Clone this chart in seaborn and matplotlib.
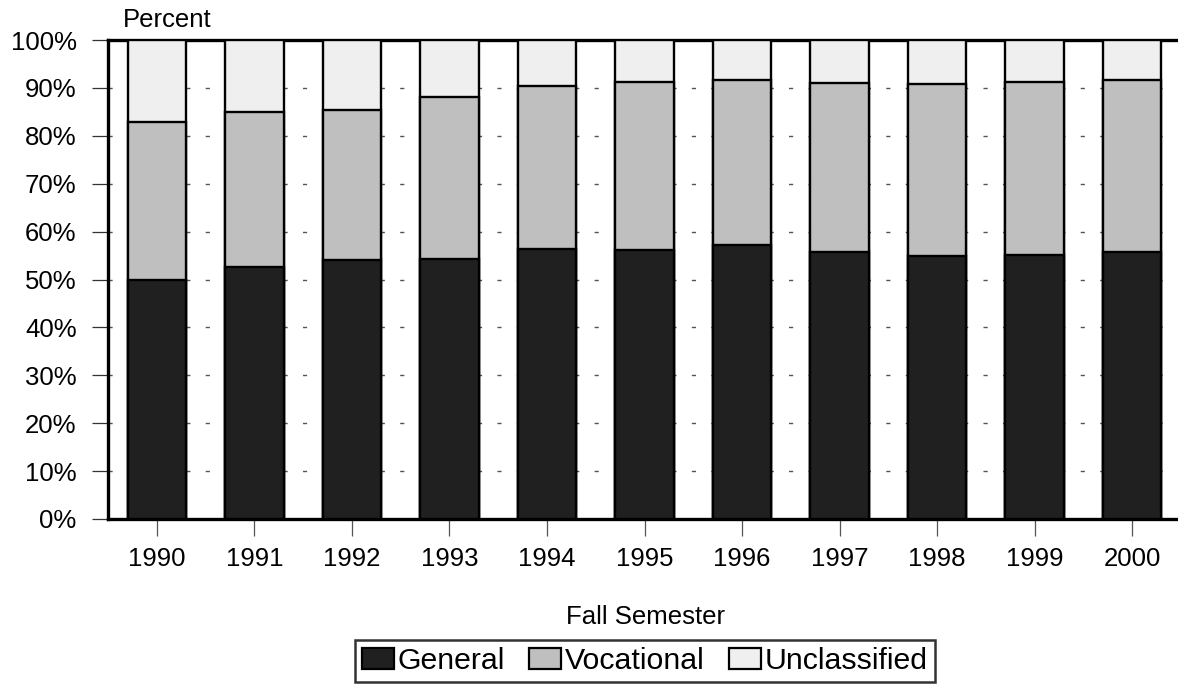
import matplotlib
matplotlib.use("Agg")
import matplotlib.pyplot as plt
import matplotlib.patches as mpatches
import seaborn as sns
import pandas as pd

# values (percent of fall enrollment)
years = ["1990", "1991", "1992", "1993", "1994", "1995",
         "1996", "1997", "1998", "1999", "2000"]
general = [49.8, 52.6, 54.0, 54.2, 56.3, 56.2, 57.2, 55.7, 54.9, 55.1, 55.8]
vocational = [33.1, 32.3, 31.3, 33.8, 34.0, 35.0, 34.5, 35.4, 36.0, 36.1, 35.8]
unclassified = [17.1, 15.1, 14.7, 12.0, 9.7, 8.8, 8.3, 8.9, 9.1, 8.8, 8.4]

series = ["General", "Vocational", "Unclassified"]
colors = ["#202020", "#bfbfbf", "#efefef"]

sns.set_style("white")
plt.rcParams["font.family"] = ["Liberation Sans", "DejaVu Sans"]
plt.rcParams["font.size"] = 18.5
plt.rcParams["text.color"] = "black"
plt.rcParams["xtick.labelcolor"] = "black"
plt.rcParams["ytick.labelcolor"] = "black"

df = pd.DataFrame({"year": years, "General": general,
                   "Vocational": vocational, "Unclassified": unclassified})
# cumulative tops for stacking
df["top_voc"] = df["General"] + df["Vocational"]
df["top_all"] = df["top_voc"] + df["Unclassified"]

fig = plt.figure(figsize=(11.78, 6.86), dpi=100)
ax = fig.add_axes([108 / 1178, 1 - 519 / 686, 1073 / 1178, 479 / 686])

for col, c in zip(["top_all", "top_voc", "General"], colors[::-1]):
    sns.barplot(data=df, x="year", y=col, color=c, width=0.6,
                edgecolor="black", linewidth=1.7, saturation=1, ax=ax, zorder=3)

ax.set_xlim(-0.5, 10.5)
ax.set_ylim(0, 100)
ax.set_yticks(range(0, 101, 10))
ax.set_yticklabels([f"{v}%" for v in range(0, 101, 10)])

ax.yaxis.grid(True, linestyle=(0, (3, 11)), color="#555555", linewidth=1, zorder=0)
ax.xaxis.grid(False)
ax.set_axisbelow(True)

for s in ["left", "bottom", "top"]:
    ax.spines[s].set_visible(True)
    ax.spines[s].set_linewidth(2.4)
    ax.spines[s].set_color("black")
ax.spines["right"].set_visible(False)

ax.tick_params(axis="y", direction="out", length=11.5, width=0.9, color="#333333",
               labelcolor="black", pad=11, left=True, labelsize=18.5)
ax.tick_params(axis="x", direction="out", length=12, width=0.9, color="#555555",
               labelcolor="black", pad=8, bottom=True, labelsize=18.5)

ax.set_xlabel("")
ax.set_ylabel("")
fig.text(123 / 1178, 1 - 27 / 686, "Percent", ha="left", va="baseline",
         fontsize=18.5, color="black")
fig.text(645 / 1178, 1 - 624 / 686, "Fall Semester", ha="center", va="baseline",
         fontsize=18.5, color="black")

handles = [mpatches.Patch(facecolor=c, edgecolor="black", linewidth=1.6, label=l)
           for c, l in zip(colors, series)]
leg = fig.legend(handles=handles, loc="center", ncol=3,
                 bbox_to_anchor=(645 / 1178, 1 - 661 / 686),
                 frameon=True, fancybox=False, edgecolor="black",
                 handlelength=1.05, handleheight=0.66, handletextpad=0.13,
                 columnspacing=0.8, borderpad=0.22, borderaxespad=0,
                 fontsize=21.8, labelcolor="black")
leg.get_frame().set_linewidth(1.8)

fig.savefig("out.png", dpi=100)
